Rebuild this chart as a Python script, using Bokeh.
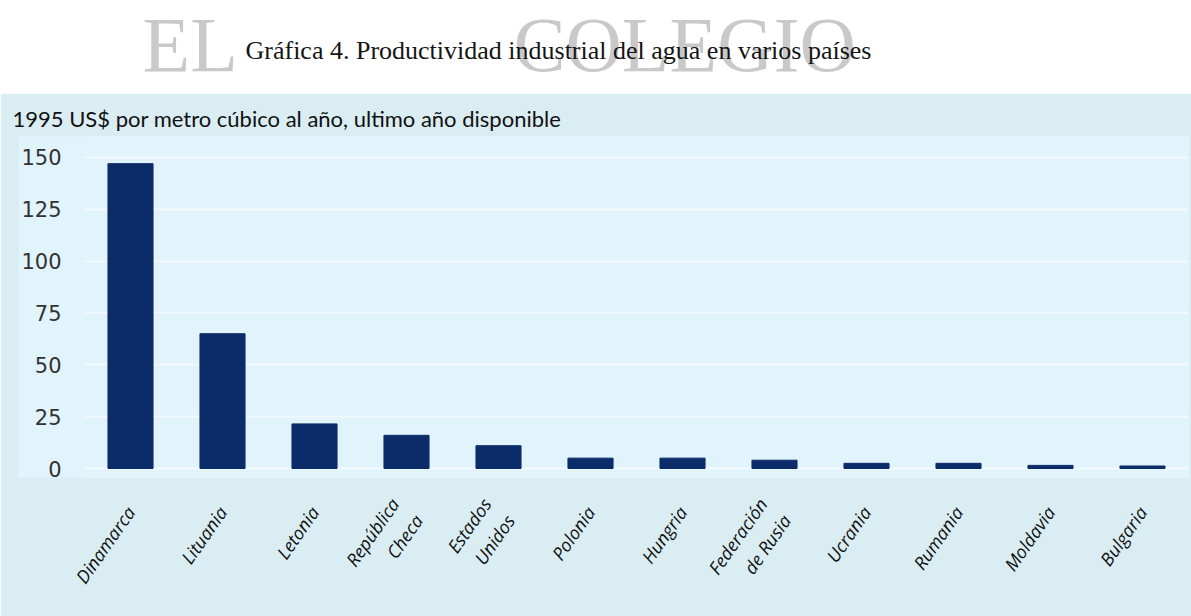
import math
from bokeh.plotting import figure
from bokeh.models import Range1d, FactorRange, FixedTicker, Label
from bokeh.layouts import column
from bokeh.embed import file_html
from bokeh.resources import INLINE

# ---- data ----
countries = ["Dinamarca", "Lituania", "Letonia", "República\nCheca", "Estados\nUnidos",
             "Polonia", "Hungria", "Federación\nde Rusia", "Ucrania", "Rumania",
             "Moldavia", "Bulgaria"]
productivity = [147, 65, 21.5, 16, 11, 5, 5, 4, 2.5, 2.5, 1.5, 1.2]
y_ticks = [0, 25, 50, 75, 100, 125, 150]

title_text = "Gráfica 4. Productividad industrial del agua en varios países"
subtitle_text = "1995 US$ por metro cúbico al año, ultimo año disponible"
watermark_words = ["EL", "COLEGIO"]

DARK = "#daedf3"
LIGHT = "#e1f3fb"
NAVY = "#0c2c69"

W = 1191
HEAD_H = 93
FRAME_L = 84
FRAME_R_BORDER = 3

# ---- top header (its frame is aligned with the chart's frame by the column) ----
top = figure(width=W, height=HEAD_H, output_backend="svg", toolbar_location=None,
             x_range=Range1d(FRAME_L, W - FRAME_R_BORDER), y_range=Range1d(0, HEAD_H),
             min_border=0, outline_line_color=None)
top.axis.visible = False
top.grid.visible = False
top.background_fill_color = "white"
top.border_fill_color = "white"
top.add_layout(Label(x=142, y=49, text=watermark_words[0], text_font="Liberation Serif",
                     text_font_size="78px", text_color="#c9c9c9",
                     text_baseline="alphabetic", text_align="left"))
top.add_layout(Label(x=513, y=49, text=watermark_words[1], text_font="Liberation Serif",
                     text_font_size="78px", text_color="#c9c9c9",
                     text_baseline="alphabetic", text_align="left"))
top.add_layout(Label(x=245, y=43, text=title_text, text_font="Liberation Serif",
                     text_font_size="26px", text_color="#151515",
                     text_baseline="alphabetic", text_align="left"))

# ---- chart ----
p = figure(width=W, height=616 - HEAD_H, output_backend="svg", toolbar_location=None,
           x_range=FactorRange(*countries), y_range=Range1d(-4.34, 160.1),
           min_border_left=FRAME_L, min_border_right=FRAME_R_BORDER, min_border_top=43,
           min_border_bottom=139, outline_line_color=None,
           title=subtitle_text)
p.background_fill_color = LIGHT
p.border_fill_color = DARK
p.title.text_font = "Lato"
p.title.text_font_size = "22px"
p.title.text_font_style = "normal"
p.title.text_color = "#111111"
p.title.align = "left"
p.title.offset = -72

p.vbar(x=countries, top=productivity, width=0.49, color=NAVY)

p.yaxis.ticker = FixedTicker(ticks=y_ticks)
p.yaxis.axis_line_color = None
p.yaxis.major_tick_line_color = None
p.yaxis.minor_tick_line_color = None
p.yaxis.major_label_text_font = "DejaVu Sans"
p.yaxis.major_label_text_font_size = "21px"
p.yaxis.major_label_text_color = "#333333"
p.yaxis.major_label_standoff = 17
p.yaxis.background_fill_color = LIGHT

p.xaxis.axis_line_color = None
p.xaxis.major_tick_line_color = None
p.xaxis.major_label_orientation = 0.96
p.xaxis.major_label_text_font = "Open Sans"
p.xaxis.major_label_text_font_style = "italic"
p.xaxis.major_label_text_font_size = "18px"
p.xaxis.major_label_text_color = "#111111"
p.xaxis.major_label_standoff = 25

p.xgrid.grid_line_color = None
p.ygrid.ticker = FixedTicker(ticks=y_ticks)
p.ygrid.grid_line_color = "white"
p.ygrid.grid_line_width = 2
p.ygrid.grid_line_alpha = 0.6

layout = column(top, p, spacing=0)
open("out.html", "w").write(file_html(layout, INLINE))
